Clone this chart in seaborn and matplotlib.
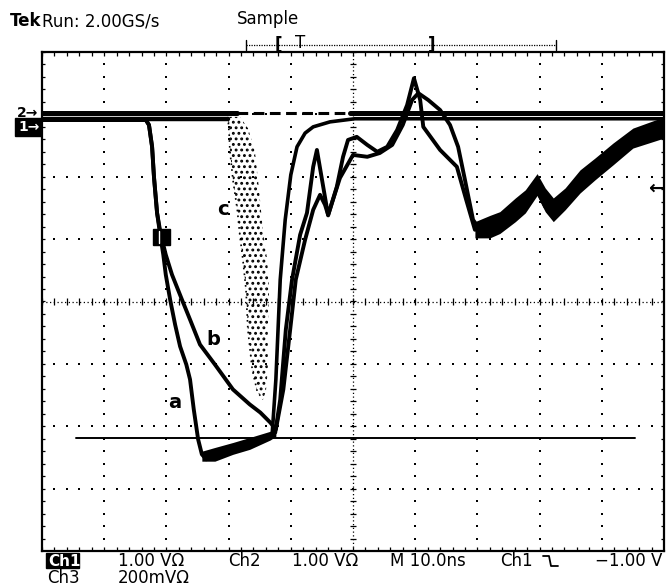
import numpy as np
import matplotlib
matplotlib.use("Agg")
import matplotlib.pyplot as plt
import seaborn as sns
from matplotlib.patches import Rectangle

# time in ns (10 ns/div), level in screen divisions (-4 .. 4)
a_t = [0, 16.7, 17.2, 17.7, 18.0, 18.5, 19.0, 19.5, 19.9, 20.6, 21.4, 22.2, 23.2, 23.8,
       24.4, 25.1, 25.7, 26.4, 27.8, 30.7, 33.4, 36.7, 37.5, 38.3, 39.2, 40.2, 41.5, 42.6,
       43.6, 44.2, 46.0, 47.4, 48.4, 49.2, 50.6, 52.3, 53.9, 55.5, 57.1, 58.7, 59.8, 60.8,
       61.3, 64.0, 66.7, 68.2, 69.6, 72.0, 73.6, 76.1, 77.7, 79.6, 80.9, 82.2, 84.1, 86.5,
       88.9, 91.8, 95.0, 100]
a_v = [2.91, 2.91, 2.83, 2.48, 2.00, 1.42, 1.07, 0.75, 0.43, 0.03, -0.37, -0.72, -1.01, -1.25,
       -1.73, -2.21, -2.45, -2.53, -2.48, -2.37, -2.27, -2.16, -2.10, -1.57, -0.45, 0.35, 1.07, 1.42,
       2.16, 2.43, 1.38, 1.84, 2.32, 2.59, 2.64, 2.51, 2.40, 2.48, 2.75, 3.15, 3.58, 3.23,
       2.80, 2.43, 2.16, 1.63, 1.15, 1.22, 1.28, 1.50, 1.63, 1.90, 1.63, 1.47, 1.66, 1.95,
       2.14, 2.38, 2.64, 2.80]

b_t = [0, 16.7, 17.2, 17.7, 18.0, 18.5, 19.1, 19.9, 20.9, 22.5, 23.8, 25.4, 27.8, 30.7,
       33.4, 35.1, 36.7, 37.6, 38.8, 39.9, 40.8, 42.3, 43.6, 44.7, 45.5, 46.0, 47.9, 50.0,
       52.3, 54.3, 56.3, 58.0, 59.5, 60.5, 62.1, 64.0, 65.6, 66.9, 68.0, 69.3, 70.4, 72.0,
       73.6, 76.1, 77.7, 79.6, 80.9, 82.2, 84.1, 86.5, 88.9, 91.8, 95.0, 100]
b_v = [2.91, 2.91, 2.83, 2.48, 2.00, 1.42, 1.07, 0.75, 0.43, 0.03, -0.29, -0.69, -1.01, -1.41,
       -1.65, -1.78, -1.94, -2.05, -1.41, -0.45, 0.35, 0.99, 1.47, 1.71, 1.55, 1.39, 1.98, 2.35,
       2.32, 2.38, 2.51, 2.83, 3.23, 3.34, 3.23, 3.07, 2.83, 2.48, 1.95, 1.31, 1.15, 1.10,
       1.15, 1.38, 1.50, 1.78, 1.52, 1.36, 1.55, 1.83, 2.02, 2.26, 2.52, 2.68]

# noisy envelope of trace a at its minimum
a_floor_t = [25.7, 27.8, 30.7, 33.4, 36.7, 37.6]
a_floor_hi = [-2.40, -2.34, -2.26, -2.18, -2.08, -2.02]
a_floor_lo = [-2.56, -2.56, -2.45, -2.37, -2.22, -2.16]

# noisy envelope of a and b at the right
band_t = [69.6, 72.0, 73.6, 76.1, 77.7, 79.6, 80.9, 82.2, 84.1, 86.5, 88.9, 91.8, 95.0, 100]
band_hi = [1.28, 1.38, 1.44, 1.66, 1.79, 2.05, 1.82, 1.66, 1.82, 2.11, 2.30, 2.54, 2.78, 2.96]
band_lo = [1.02, 1.02, 1.09, 1.28, 1.42, 1.70, 1.44, 1.28, 1.47, 1.74, 1.95, 2.19, 2.46, 2.62]

# trace c: sparse sampled dip (outline) then its return edge
c_base_t = [0, 29.9]
c_base_v = [2.93, 2.93]
c_cloud_t = [29.9, 30.1, 30.2, 30.7, 31.4, 31.8, 32.3, 32.8, 33.1, 33.8, 34.6, 35.5,
             36.0, 36.3, 36.3, 36.5, 36.2, 35.5, 34.9, 34.2, 33.1, 31.8]
c_cloud_v = [2.96, 2.67, 2.43, 1.95, 1.47, 1.07, 0.67, 0.19, -0.45, -1.09, -1.44, -1.57,
             -1.44, -1.09, -0.45, 0.19, 0.67, 1.15, 1.79, 2.43, 2.78, 2.96]
c_rise_t = [37.0, 37.6, 38.3, 39.1, 40.0, 41.0, 42.3, 43.6, 46.3, 50.3, 100]
c_rise_v = [-2.13, -1.25, 0.35, 1.31, 2.03, 2.48, 2.70, 2.80, 2.88, 2.93, 2.93]

# channel 2 flat trace (solid, dashed, solid)
ch2_t = [0, 31.4, 49.5, 100]
ch2_v = [3.02, 3.02, 3.02, 3.02]

# cursor line
cursor_t = [5.5, 95.3]
cursor_v = [-2.19, -2.19]

sns.set_theme(style="white")
plt.rcParams['font.family'] = ['DejaVu Sans']
plt.rcParams['text.color'] = 'black'
plt.rcParams['hatch.linewidth'] = 1.3

W, H = 666, 588
fig = plt.figure(figsize=(W / 100, H / 100), dpi=100)
fig.patch.set_facecolor('white')
ax = fig.add_axes([42 / W, 1 - 551 / H, 622 / W, 499 / H])
ax.set_xlim(0, 100)
ax.set_ylim(-4, 4)
ax.set_xticks([])
ax.set_yticks([])
ax.set_facecolor('white')
for s in ax.spines.values():
    s.set_color('black')
    s.set_linewidth(1.6)

# graticule
minor_t = np.arange(0, 100.01, 2)
minor_v = np.arange(-4, 4.01, 0.2)
for gx in range(10, 100, 10):
    if gx != 50:
        ax.plot(np.full_like(minor_v, gx), minor_v, ls='none', marker='s', ms=1.6, mew=0, color='black')
for gy in [-3, -2, -1, 1, 2, 3]:
    ax.plot(minor_t, np.full_like(minor_t, gy), ls='none', marker='s', ms=1.6, mew=0, color='black')
ax.plot([50, 50], [-4, 4], ls=(0, (1, 2)), lw=0.9, color='black')
ax.plot([0, 100], [0, 0], ls=(0, (1, 2)), lw=0.9, color='black')
ax.vlines(minor_t, -0.05, 0.05, color='black', lw=0.9)
ax.hlines(minor_v, 49.5, 50.5, color='black', lw=0.9)
ax.vlines(minor_t, 3.94, 4, color='black', lw=0.9)
ax.vlines(minor_t, -4, -3.94, color='black', lw=0.9)
ax.hlines(minor_v, 0, 0.5, color='black', lw=0.9)
ax.hlines(minor_v, 99.5, 100, color='black', lw=0.9)


def trace(t, v, lw, **kw):
    sns.lineplot(x=t, y=v, ax=ax, color='black', lw=lw, sort=False,
                 estimator=None, legend=False, **kw)


trace(cursor_t, cursor_v, 1.4)
trace(ch2_t[0:2], ch2_v[0:2], 3.6)
trace(ch2_t[1:3], ch2_v[1:3], 2.2, linestyle=(0, (3.5, 1.8)))
trace(ch2_t[2:4], ch2_v[2:4], 3.6)
trace(c_base_t, c_base_v, 3.2)
ax.fill(c_cloud_t, c_cloud_v, facecolor='none', edgecolor='black', hatch='...', lw=0)
trace(c_cloud_t[:12], c_cloud_v[:12], 1.2, linestyle=(0, (1, 2.5)))
trace(c_rise_t, c_rise_v, 2.6)
ax.fill_between(a_floor_t, a_floor_lo, a_floor_hi, color='black', lw=0)
ax.fill_between(band_t, band_lo, band_hi, color='black', lw=0)
trace(a_t, a_v, 2.8)
trace(b_t, b_v, 2.8)

ax.text(29.1, 1.47, "c", fontsize=14, fontweight='bold', ha='center', va='center')
ax.text(27.5, -0.61, "b", fontsize=14, fontweight='bold', ha='center', va='center')
ax.text(21.4, -1.62, "a", fontsize=14, fontweight='bold', ha='center', va='center')

# overlay for screen annotations (pixel coordinates)
ov = fig.add_axes([0, 0, 1, 1], zorder=5)
ov.set_xlim(0, W)
ov.set_ylim(H, 0)
ov.axis('off')
ov.patch.set_alpha(0)

ov.text(10, 26, "Tek", fontsize=12, fontweight='bold', va='baseline')
ov.text(42, 26, "Run: 2.00GS/s", fontsize=12, va='baseline')
ov.text(237, 24, "Sample", fontsize=12, va='baseline')

ov.plot([246, 556], [45, 45], ls=(0, (1, 1)), lw=0.9, color='black')
ov.plot([246, 246], [40, 50], lw=1, color='black')
ov.plot([556, 556], [40, 50], lw=1, color='black')
ov.text(278, 45, "[", fontsize=12, fontweight='bold', ha='center', va='center')
ov.text(300, 43, "T", fontsize=12, ha='center', va='center')
ov.text(432, 45, "]", fontsize=12, fontweight='bold', ha='center', va='center')

ov.text(17, 113, "2→", fontsize=10, fontweight='bold', va='center')
ov.add_patch(Rectangle((15, 118), 26, 18, color='black'))
ov.text(18, 127, "1→", fontsize=10, fontweight='bold', color='white', va='center')
ov.text(664, 188, "←", fontsize=14, fontweight='bold', ha='right', va='center')

ov.add_patch(Rectangle((153, 229), 17, 16, color='black'))
ov.plot([159, 159], [231, 243], lw=1, color='white')

ov.add_patch(Rectangle((46, 553), 33, 15, color='black'))
ov.text(48, 566, "Ch1", fontsize=11, fontweight='bold', color='white', va='baseline')
ov.text(118, 566, "1.00 VΩ", fontsize=12, va='baseline')
ov.text(228, 566, "Ch2", fontsize=12, va='baseline')
ov.text(292, 566, "1.00 VΩ", fontsize=12, va='baseline')
ov.text(390, 566, "M 10.0ns", fontsize=12, va='baseline')
ov.text(500, 566, "Ch1", fontsize=12, va='baseline')
ov.plot([543, 549, 551, 558], [556, 556, 566, 566], lw=1.3, color='black')
ov.text(662, 566, "−1.00 V", fontsize=12, ha='right', va='baseline')
ov.text(47, 583, "Ch3", fontsize=12, va='baseline')
ov.text(118, 583, "200mVΩ", fontsize=12, va='baseline')

fig.savefig("out.png", dpi=100)
